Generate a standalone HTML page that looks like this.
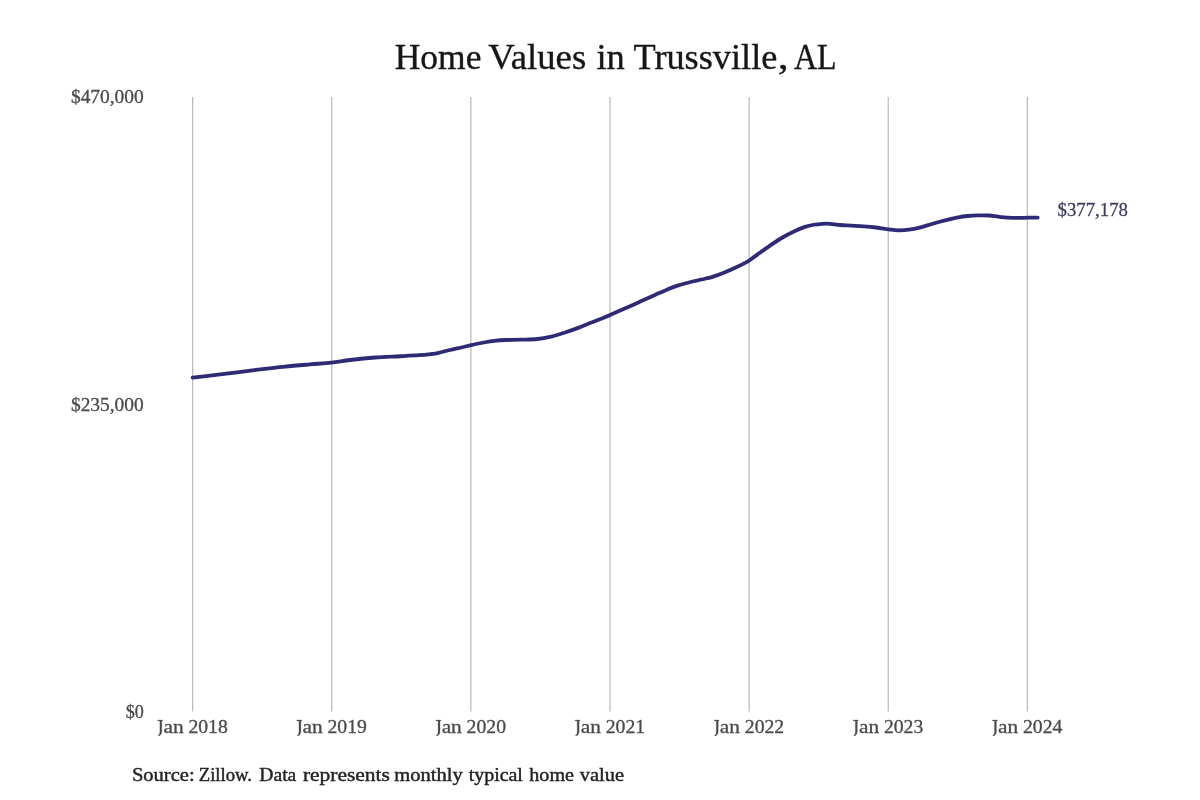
<!DOCTYPE html>
<html><head><meta charset="utf-8"><title>Home Values in Trussville, AL</title>
<style>html,body{margin:0;padding:0;background:#fff;}svg{display:block;}text{font-family:"Liberation Serif",serif;}</style></head><body>
<svg width="1200" height="800" viewBox="0 0 1200 800">
<defs><filter id="soft" x="0" y="0" width="1200" height="800" filterUnits="userSpaceOnUse"><feGaussianBlur stdDeviation="0.35"/></filter></defs>
<rect width="1200" height="800" fill="#ffffff"/>
<g filter="url(#soft)">
<g stroke="#aaaaaa" stroke-width="1">
<line x1="192.70" y1="97.0" x2="192.70" y2="711.5"/>
<line x1="331.80" y1="97.0" x2="331.80" y2="711.5"/>
<line x1="470.90" y1="97.0" x2="470.90" y2="711.5"/>
<line x1="610.00" y1="97.0" x2="610.00" y2="711.5"/>
<line x1="749.10" y1="97.0" x2="749.10" y2="711.5"/>
<line x1="888.20" y1="97.0" x2="888.20" y2="711.5"/>
<line x1="1027.30" y1="97.0" x2="1027.30" y2="711.5"/>
</g>
<path d="M192.60,377.60 C195.50,377.27 202.93,376.43 210.00,375.60 C217.07,374.77 226.67,373.63 235.00,372.60 C243.33,371.57 251.67,370.40 260.00,369.40 C268.33,368.40 276.67,367.43 285.00,366.60 C293.33,365.77 302.29,365.05 310.00,364.40 C317.71,363.75 324.58,363.43 331.25,362.70 C337.92,361.97 342.71,360.87 350.00,360.00 C357.29,359.13 366.67,358.12 375.00,357.50 C383.33,356.88 392.71,356.63 400.00,356.25 C407.29,355.87 413.54,355.57 418.75,355.20 C423.96,354.82 428.12,354.35 431.25,354.00 C434.38,353.65 434.38,353.77 437.50,353.10 C440.62,352.43 445.83,350.98 450.00,350.00 C454.17,349.02 458.96,348.07 462.50,347.25 C466.04,346.43 467.71,345.89 471.25,345.10 C474.79,344.31 479.58,343.25 483.75,342.50 C487.92,341.75 492.71,341.02 496.25,340.60 C499.79,340.18 500.83,340.15 505.00,340.00 C509.17,339.85 515.83,339.87 521.25,339.70 C526.67,339.53 532.71,339.47 537.50,339.00 C542.29,338.53 545.42,337.98 550.00,336.90 C554.58,335.82 560.42,333.97 565.00,332.50 C569.58,331.03 573.33,329.67 577.50,328.10 C581.67,326.53 585.83,324.73 590.00,323.10 C594.17,321.47 599.17,319.67 602.50,318.30 C605.83,316.93 605.42,316.91 610.00,314.90 C614.58,312.89 624.58,308.63 630.00,306.25 C635.42,303.87 638.33,302.48 642.50,300.60 C646.67,298.73 650.83,296.87 655.00,295.00 C659.17,293.13 663.75,290.97 667.50,289.40 C671.25,287.83 673.33,286.92 677.50,285.60 C681.67,284.28 687.92,282.64 692.50,281.50 C697.08,280.36 701.67,279.52 705.00,278.75 C708.33,277.98 709.38,277.90 712.50,276.90 C715.62,275.90 719.79,274.36 723.75,272.75 C727.71,271.14 732.08,269.24 736.25,267.25 C740.42,265.26 745.21,262.94 748.75,260.80 C752.29,258.66 753.96,256.93 757.50,254.40 C761.04,251.87 765.83,248.42 770.00,245.60 C774.17,242.78 778.33,239.93 782.50,237.50 C786.67,235.07 791.25,232.77 795.00,231.00 C798.75,229.23 801.88,227.94 805.00,226.90 C808.12,225.86 810.83,225.27 813.75,224.75 C816.67,224.23 819.79,223.96 822.50,223.80 C825.21,223.64 827.08,223.60 830.00,223.80 C832.92,224.00 836.46,224.70 840.00,225.00 C843.54,225.30 847.29,225.38 851.25,225.60 C855.21,225.82 859.58,225.98 863.75,226.30 C867.92,226.62 872.08,227.00 876.25,227.50 C880.42,228.00 885.08,228.83 888.75,229.30 C892.42,229.77 894.92,230.23 898.30,230.30 C901.67,230.37 905.43,230.15 909.00,229.70 C912.57,229.25 915.92,228.55 919.70,227.60 C923.48,226.65 927.48,225.20 931.70,224.00 C935.92,222.80 940.57,221.52 945.00,220.40 C949.43,219.28 954.52,218.03 958.30,217.30 C962.08,216.57 964.37,216.32 967.70,216.00 C971.03,215.68 974.75,215.48 978.30,215.40 C981.85,215.32 985.67,215.28 989.00,215.50 C992.33,215.72 995.18,216.35 998.30,216.70 C1001.42,217.05 1004.37,217.40 1007.70,217.60 C1011.03,217.80 1014.97,217.88 1018.30,217.90 C1021.63,217.92 1024.47,217.75 1027.70,217.70 C1030.93,217.65 1036.03,217.62 1037.70,217.60" fill="none" stroke="#2e2c76" stroke-width="3.8" stroke-linecap="round" stroke-linejoin="round"/>
<path transform="translate(192.70,0)" d="M-35.0,720.0 H-30.1 V720.8 L-30.9,721.0 V731.4 C-30.9,733.9 -32.2,735.3 -34.1,736.0 L-34.5,735.3 C-33.2,734.6 -32.8,733.4 -32.8,731.4 V721.0 L-35.0,720.8 Z" fill="#4a4a4a" stroke="#4a4a4a" stroke-width="0.3"/>
<path transform="translate(331.80,0)" d="M-35.0,720.0 H-30.1 V720.8 L-30.9,721.0 V731.4 C-30.9,733.9 -32.2,735.3 -34.1,736.0 L-34.5,735.3 C-33.2,734.6 -32.8,733.4 -32.8,731.4 V721.0 L-35.0,720.8 Z" fill="#4a4a4a" stroke="#4a4a4a" stroke-width="0.3"/>
<path transform="translate(470.90,0)" d="M-35.0,720.0 H-30.1 V720.8 L-30.9,721.0 V731.4 C-30.9,733.9 -32.2,735.3 -34.1,736.0 L-34.5,735.3 C-33.2,734.6 -32.8,733.4 -32.8,731.4 V721.0 L-35.0,720.8 Z" fill="#4a4a4a" stroke="#4a4a4a" stroke-width="0.3"/>
<path transform="translate(610.00,0)" d="M-35.0,720.0 H-30.1 V720.8 L-30.9,721.0 V731.4 C-30.9,733.9 -32.2,735.3 -34.1,736.0 L-34.5,735.3 C-33.2,734.6 -32.8,733.4 -32.8,731.4 V721.0 L-35.0,720.8 Z" fill="#4a4a4a" stroke="#4a4a4a" stroke-width="0.3"/>
<path transform="translate(749.10,0)" d="M-35.0,720.0 H-30.1 V720.8 L-30.9,721.0 V731.4 C-30.9,733.9 -32.2,735.3 -34.1,736.0 L-34.5,735.3 C-33.2,734.6 -32.8,733.4 -32.8,731.4 V721.0 L-35.0,720.8 Z" fill="#4a4a4a" stroke="#4a4a4a" stroke-width="0.3"/>
<path transform="translate(888.20,0)" d="M-35.0,720.0 H-30.1 V720.8 L-30.9,721.0 V731.4 C-30.9,733.9 -32.2,735.3 -34.1,736.0 L-34.5,735.3 C-33.2,734.6 -32.8,733.4 -32.8,731.4 V721.0 L-35.0,720.8 Z" fill="#4a4a4a" stroke="#4a4a4a" stroke-width="0.3"/>
<path transform="translate(1027.30,0)" d="M-35.0,720.0 H-30.1 V720.8 L-30.9,721.0 V731.4 C-30.9,733.9 -32.2,735.3 -34.1,736.0 L-34.5,735.3 C-33.2,734.6 -32.8,733.4 -32.8,731.4 V721.0 L-35.0,720.8 Z" fill="#4a4a4a" stroke="#4a4a4a" stroke-width="0.3"/>
<text transform="translate(394.76,69.20) scale(0.9827,1)" font-size="36.1" fill="#161616" stroke="#161616" stroke-width="0.35">Home</text>
<text transform="translate(488.25,69.20) scale(1.0185,1)" font-size="36.1" fill="#161616" stroke="#161616" stroke-width="0.35">Values</text>
<text transform="translate(596.50,69.20) scale(1.0092,1)" font-size="36.1" fill="#161616" stroke="#161616" stroke-width="0.35">in</text>
<text transform="translate(633.50,69.20) scale(1.0057,1)" font-size="36.1" fill="#161616" stroke="#161616" stroke-width="0.35">Trussville</text>
<text transform="translate(777.68,69.20) scale(1.2174,1)" font-size="36.1" fill="#161616" stroke="#161616" stroke-width="0.35">,</text>
<text transform="translate(793.98,69.20) scale(0.8874,1)" font-size="36.1" fill="#161616" stroke="#161616" stroke-width="0.35">AL</text>
<text transform="translate(70.94,102.90) scale(1.0120,1)" font-size="19.2" fill="#4a4a4a" stroke="#4a4a4a" stroke-width="0.3">$470,000</text>
<text transform="translate(70.94,410.80) scale(1.0120,1)" font-size="19.2" fill="#4a4a4a" stroke="#4a4a4a" stroke-width="0.3">$235,000</text>
<text transform="translate(125.79,718.40) scale(0.9444,1)" font-size="19.2" fill="#4a4a4a" stroke="#4a4a4a" stroke-width="0.3">$0</text>
<text transform="translate(1057.56,215.50) scale(0.9886,1)" font-size="19.0" fill="#3e3e62" stroke="#3e3e62" stroke-width="0.3">$377,178</text>
<text transform="translate(163.43,733.00) scale(1.1353,1)" font-size="18.8" fill="#4a4a4a" stroke="#4a4a4a" stroke-width="0.3">an</text>
<text transform="translate(188.41,733.00) scale(1.0483,1)" font-size="18.8" fill="#4a4a4a" stroke="#4a4a4a" stroke-width="0.3">2018</text>
<text transform="translate(302.53,733.00) scale(1.1353,1)" font-size="18.8" fill="#4a4a4a" stroke="#4a4a4a" stroke-width="0.3">an</text>
<text transform="translate(327.51,733.00) scale(1.0483,1)" font-size="18.8" fill="#4a4a4a" stroke="#4a4a4a" stroke-width="0.3">2019</text>
<text transform="translate(441.63,733.00) scale(1.1353,1)" font-size="18.8" fill="#4a4a4a" stroke="#4a4a4a" stroke-width="0.3">an</text>
<text transform="translate(466.61,733.00) scale(1.0483,1)" font-size="18.8" fill="#4a4a4a" stroke="#4a4a4a" stroke-width="0.3">2020</text>
<text transform="translate(580.73,733.00) scale(1.1353,1)" font-size="18.8" fill="#4a4a4a" stroke="#4a4a4a" stroke-width="0.3">an</text>
<text transform="translate(605.71,733.00) scale(1.0483,1)" font-size="18.8" fill="#4a4a4a" stroke="#4a4a4a" stroke-width="0.3">2021</text>
<text transform="translate(719.83,733.00) scale(1.1353,1)" font-size="18.8" fill="#4a4a4a" stroke="#4a4a4a" stroke-width="0.3">an</text>
<text transform="translate(744.81,733.00) scale(1.0483,1)" font-size="18.8" fill="#4a4a4a" stroke="#4a4a4a" stroke-width="0.3">2022</text>
<text transform="translate(858.93,733.00) scale(1.1353,1)" font-size="18.8" fill="#4a4a4a" stroke="#4a4a4a" stroke-width="0.3">an</text>
<text transform="translate(883.91,733.00) scale(1.0483,1)" font-size="18.8" fill="#4a4a4a" stroke="#4a4a4a" stroke-width="0.3">2023</text>
<text transform="translate(998.03,733.00) scale(1.1353,1)" font-size="18.8" fill="#4a4a4a" stroke="#4a4a4a" stroke-width="0.3">an</text>
<text transform="translate(1023.01,733.00) scale(1.0483,1)" font-size="18.8" fill="#4a4a4a" stroke="#4a4a4a" stroke-width="0.3">2024</text>
<text transform="translate(131.89,781.00) scale(1.1115,1)" font-size="18.5" fill="#222222" stroke="#222222" stroke-width="0.4">Source:</text>
<text transform="translate(198.74,781.00) scale(1.0098,1)" font-size="18.5" fill="#222222" stroke="#222222" stroke-width="0.4">Zillow.</text>
<text transform="translate(259.23,781.00) scale(1.0638,1)" font-size="18.5" fill="#222222" stroke="#222222" stroke-width="0.4">Data</text>
<text transform="translate(302.91,781.00) scale(1.1596,1)" font-size="18.5" fill="#222222" stroke="#222222" stroke-width="0.4">represents</text>
<text transform="translate(394.22,781.00) scale(1.1106,1)" font-size="18.5" fill="#222222" stroke="#222222" stroke-width="0.4">monthly</text>
<text transform="translate(468.70,781.00) scale(1.0766,1)" font-size="18.5" fill="#222222" stroke="#222222" stroke-width="0.4">typical</text>
<text transform="translate(529.30,781.00) scale(1.0896,1)" font-size="18.5" fill="#222222" stroke="#222222" stroke-width="0.4">home</text>
<text transform="translate(579.78,781.00) scale(1.1075,1)" font-size="18.5" fill="#222222" stroke="#222222" stroke-width="0.4">value</text>
</g>
</svg></body></html>
